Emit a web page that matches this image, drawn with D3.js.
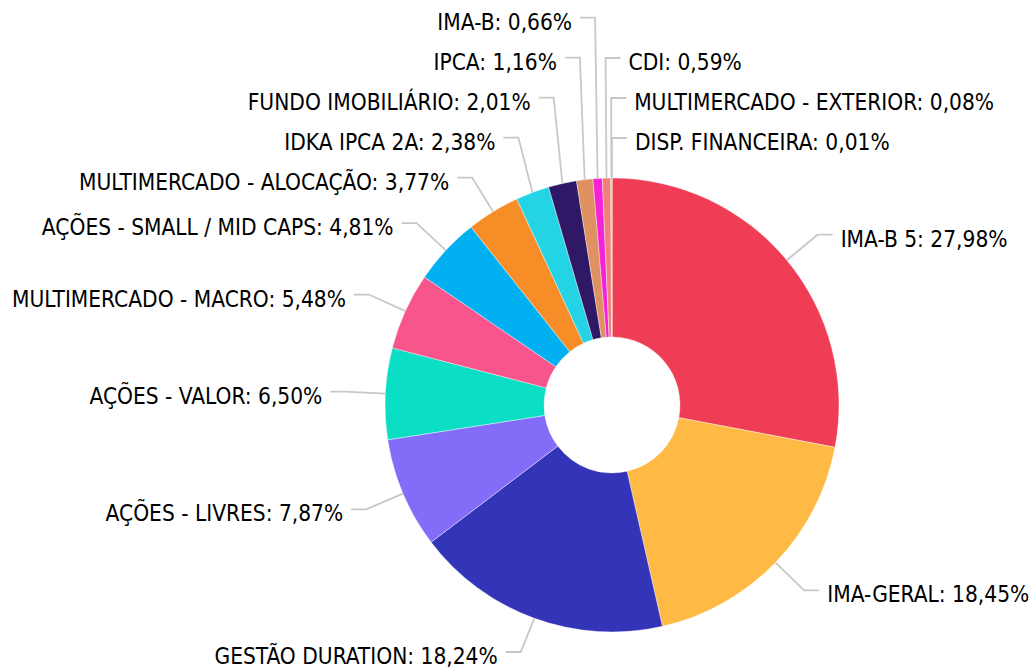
<!DOCTYPE html>
<html lang="pt-BR">
  <head>
    <meta charset="utf-8">
    <title>Distribuição por segmento</title>
    <style>
      html, body {
        margin: 0;
        padding: 0;
        background: #fff;
      }
      svg {
        display: block;
        font-family: "DejaVu Sans Condensed", "DejaVu Sans", sans-serif;
      }
    </style>
  </head>
  <body>
    <svg width="1032" height="671"></svg>
    <script src="https://cdn.jsdelivr.net/npm/d3@7"></script>
    <script>
      const categories = [
        "IMA-B 5", "IMA-GERAL", "GESTÃO DURATION", "AÇÕES - LIVRES", "AÇÕES - VALOR",
        "MULTIMERCADO - MACRO", "AÇÕES - SMALL / MID CAPS", "MULTIMERCADO - ALOCAÇÃO",
        "IDKA IPCA 2A", "FUNDO IMOBILIÁRIO", "IPCA", "IMA-B", "CDI",
        "MULTIMERCADO - EXTERIOR", "DISP. FINANCEIRA"
      ];
      const values = [27.98, 18.45, 18.24, 7.87, 6.50, 5.48, 4.81, 3.77, 2.38, 2.01, 1.16, 0.66, 0.59, 0.08, 0.01];
      const colors = [
        "#EF3D55", "#FFBA46", "#3434B8", "#836DF8", "#0ADFC6",
        "#F7558B", "#00B0F0", "#F68D26", "#25D4E4", "#2F1967",
        "#DF9161", "#F522D6", "#EE8279", "#9AA64C", "#7A8A3A"
      ];

      const cx = 612, cy = 405;
      const outerR = 227, innerR = 68, elbowR = 267;
      const spacing = 40;
      const maxY = 652; // keep bottom label inside the frame

      const ptBR = d3.formatLocale({decimal: ",", thousands: ".", grouping: [3], currency: ["R$", ""]});
      const fmt = ptBR.format(".2f");

      const data = categories.map((c, i) => ({name: c, value: values[i], color: colors[i]}));

      const pie = d3.pie().sort(null).value(d => d.value);
      const arc = d3.arc().innerRadius(innerR).outerRadius(outerR);
      const arcs = pie(data);

      const svg = d3.select("svg");
      const g = svg.append("g").attr("transform", `translate(${cx},${cy})`);

      g.selectAll("path.slice")
        .data(arcs)
        .join("path")
          .attr("class", "slice")
          .attr("d", arc)
          .attr("fill", d => d.data.color)
          .attr("stroke", "#fff")
          .attr("stroke-width", 0.4);

      // label positions
      arcs.forEach(d => {
        const a = (d.startAngle + d.endAngle) / 2;
        d.right = a < Math.PI || a > 2 * Math.PI - 0.035;
        d.px = Math.sin(a) * outerR;
        d.py = -Math.cos(a) * outerR;
        d.ex = Math.sin(a) * elbowR;
        d.ey = -Math.cos(a) * elbowR;
        d.ly = Math.min(d.ey, maxY - cy);
        // top-to-bottom order on each side
        d.order = d.right ? (a > Math.PI ? a - 2 * Math.PI : a) : -a;
      });

      // push crowded labels upwards
      ["right", "left"].forEach(side => {
        const list = arcs.filter(d => (side === "right") === d.right)
          .sort((a, b) => a.order - b.order);
        for (let i = list.length - 2; i >= 0; i--) {
          list[i].ly = Math.min(list[i].ly, list[i + 1].ly - spacing);
        }
      });

      const lines = g.append("g")
          .attr("fill", "none")
          .attr("stroke", "#c8c8c8")
          .attr("stroke-width", 1.8);

      lines.selectAll("polyline")
        .data(arcs)
        .join("polyline")
          .attr("points", d => {
            const hx = d.ex + (d.right ? 15 : -15);
            return [[d.px, d.py], [d.ex, d.ly], [hx, d.ly]].map(p => p.join(",")).join(" ");
          });

      g.append("g")
        .selectAll("text")
        .data(arcs)
        .join("text")
          .attr("x", d => d.ex + (d.right ? 23 : -23))
          .attr("y", d => d.ly + 4)
          .attr("dominant-baseline", "central")
          .attr("text-anchor", d => d.right ? "start" : "end")
          .attr("font-size", 22.5)
          .attr("fill", "#000")
          .text(d => `${d.data.name}: ${fmt(d.data.value)}%`);
    </script>
  </body>
</html>
